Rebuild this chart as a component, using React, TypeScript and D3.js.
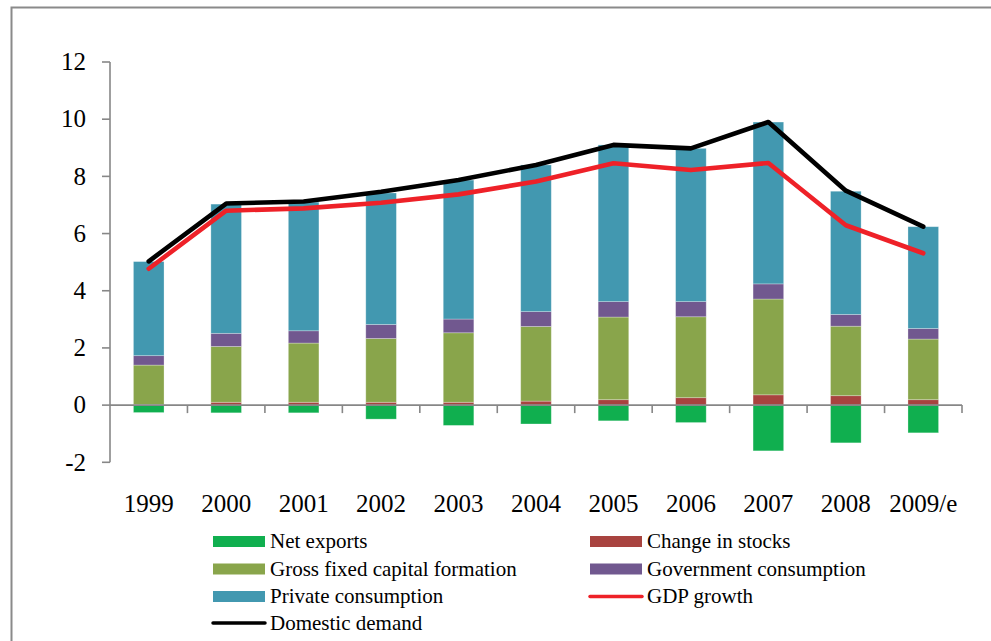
import React from "react";
import * as d3 from "d3";

const years = ["1999", "2000", "2001", "2002", "2003", "2004", "2005", "2006", "2007", "2008", "2009/e"];
const netExports = [-0.26, -0.27, -0.27, -0.49, -0.71, -0.66, -0.55, -0.61, -1.6, -1.32, -0.97];
const changeInStocks = [0.02, 0.1, 0.1, 0.1, 0.1, 0.14, 0.19, 0.26, 0.36, 0.33, 0.19];
const grossFixedCapital = [1.38, 1.95, 2.07, 2.23, 2.43, 2.61, 2.89, 2.83, 3.35, 2.43, 2.12];
const governmentConsumption = [0.33, 0.46, 0.43, 0.49, 0.48, 0.52, 0.54, 0.53, 0.53, 0.41, 0.37];
const privateConsumption = [3.29, 4.52, 4.5, 4.6, 4.86, 5.13, 5.48, 5.36, 5.66, 4.31, 3.56];
const gdpGrowth = [4.77, 6.8, 6.88, 7.08, 7.37, 7.82, 8.46, 8.22, 8.47, 6.29, 5.31];
const domesticDemand = [5.03, 7.05, 7.12, 7.46, 7.87, 8.4, 9.1, 8.98, 9.9, 7.5, 6.24];
const yTicks = [-2, 0, 2, 4, 6, 8, 10, 12];

const stackSeries = [
  { name: "Change in stocks", values: changeInStocks, color: "#A8433F" },
  { name: "Gross fixed capital formation", values: grossFixedCapital, color: "#89A54B" },
  { name: "Government consumption", values: governmentConsumption, color: "#71588F" },
  { name: "Private consumption", values: privateConsumption, color: "#4298B0" },
];
const netColor = "#10AF4F";
const gdpColor = "#EE2128";
const ddColor = "#000000";

const FONT = "'Liberation Serif', 'DejaVu Serif', serif";

export default function App() {
  const W = 991;
  const H = 641;
  const left = 110;
  const right = 962;
  const x = d3.scaleBand<string>().domain(years).range([left, right]).padding(0);
  const y = d3.scaleLinear().domain([-2, 12]).range([462.3, 62]);
  const bw = x.bandwidth() * 0.395;
  const cx = (i: number) => (x(years[i]) as number) + x.bandwidth() / 2;

  const line = d3
    .line<number>()
    .x((_, i) => cx(i))
    .y((d) => y(d));

  const axisColor = "#878787";

  const rects: React.ReactNode[] = [];
  years.forEach((yr, i) => {
    let base = 0;
    stackSeries.forEach((s) => {
      const v = s.values[i];
      rects.push(
        <rect
          key={yr + s.name}
          x={cx(i) - bw / 2}
          y={y(base + v)}
          width={bw}
          height={y(base) - y(base + v)}
          fill={s.color}
          stroke="#ffffff"
          strokeOpacity={0.35}
          strokeWidth={0.8}
        />
      );
      base += v;
    });
    rects.push(
      <rect
        key={yr + "net"}
        x={cx(i) - bw / 2}
        y={y(0)}
        width={bw}
        height={y(netExports[i]) - y(0)}
        fill={netColor}
        stroke="#ffffff"
        strokeOpacity={0.35}
        strokeWidth={0.8}
      />
    );
  });

  const legendItems = [
    { name: "Net exports", color: netColor, type: "box", col: 0, row: 0 },
    { name: "Change in stocks", color: stackSeries[0].color, type: "box", col: 1, row: 0 },
    { name: "Gross fixed capital formation", color: stackSeries[1].color, type: "box", col: 0, row: 1 },
    { name: "Government consumption", color: stackSeries[2].color, type: "box", col: 1, row: 1 },
    { name: "Private consumption", color: stackSeries[3].color, type: "box", col: 0, row: 2 },
    { name: "GDP growth", color: gdpColor, type: "line", col: 1, row: 2 },
    { name: "Domestic demand", color: ddColor, type: "line", col: 0, row: 3 },
  ];
  const colX = [213, 590];
  const rowY = [541.5, 569, 596.5, 623];

  return (
    <svg
      width={W}
      height={H}
      style={{ position: "absolute", left: 0, top: 0, display: "block", background: "#fff" }}
      fontFamily={FONT}
    >
      {/* outer frame */}
      <path d={`M11.5,${H} L11.5,7.5 L${W},7.5`} fill="none" stroke="#8a8a8a" strokeWidth={2} />

      {rects}

      {/* x axis */}
      <line x1={left} x2={right} y1={y(0)} y2={y(0)} stroke={axisColor} strokeWidth={1.6} />
      {years.map((yr) => (
        <line
          key={"xt" + yr}
          x1={(x(yr) as number) + x.bandwidth()}
          x2={(x(yr) as number) + x.bandwidth()}
          y1={y(0)}
          y2={y(0) + 8}
          stroke={axisColor}
          strokeWidth={1.6}
        />
      ))}
      {/* y axis */}
      <line x1={left} x2={left} y1={y(12)} y2={y(-2)} stroke={axisColor} strokeWidth={1.6} />
      {yTicks.map((t) => (
        <g key={"yt" + t}>
          <line x1={left - 8} x2={left} y1={y(t)} y2={y(t)} stroke={axisColor} strokeWidth={1.6} />
          <text x={86} y={y(t)} dy="0.33em" textAnchor="end" fontSize={25} fontFamily={FONT} fill="#000">
            {t}
          </text>
        </g>
      ))}
      {years.map((yr, i) => (
        <text key={"xl" + yr} x={cx(i)} y={512} textAnchor="middle" fontSize={25} fontFamily={FONT} fill="#000">
          {yr}
        </text>
      ))}

      {/* lines */}
      <path d={line(domesticDemand) || ""} fill="none" stroke={ddColor} strokeWidth={4.6} strokeLinejoin="round" strokeLinecap="round" />
      <path d={line(gdpGrowth) || ""} fill="none" stroke={gdpColor} strokeWidth={4.6} strokeLinejoin="round" strokeLinecap="round" />

      {/* legend */}
      {legendItems.map((it) => {
        const lx = colX[it.col];
        const ly = rowY[it.row];
        return (
          <g key={"lg" + it.name}>
            {it.type === "box" ? (
              <rect x={lx} y={ly - 5.5} width={52} height={11} fill={it.color} />
            ) : (
              <line x1={lx} x2={lx + 52} y1={ly} y2={ly} stroke={it.color} strokeWidth={3.5} strokeLinecap="round" />
            )}
            <text x={lx + 57} y={ly} dy="0.33em" fontSize={21} fontFamily={FONT} fill="#000">
              {it.name}
            </text>
          </g>
        );
      })}
    </svg>
  );
}
